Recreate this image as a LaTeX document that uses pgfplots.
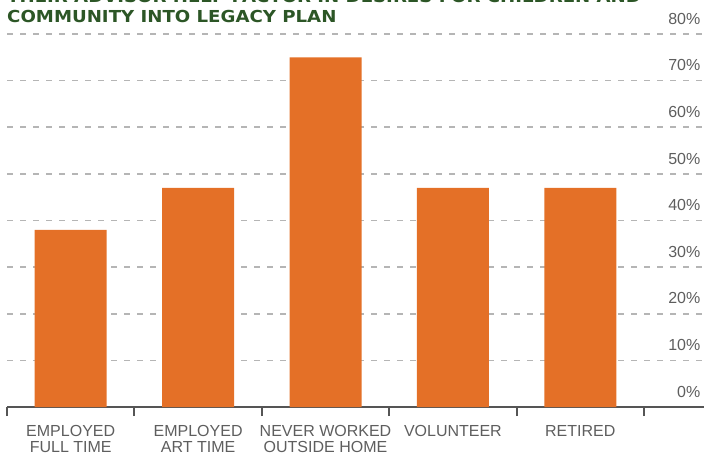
\documentclass[border=0pt]{standalone}
\usepackage{fontspec}
\setmainfont{Liberation Sans}
\newfontfamily\titlefont[FakeStretch=1.1]{DejaVu Sans}
\usepackage{pgfplots}
\pgfplotsset{compat=1.18}
\definecolor{barorange}{HTML}{E47027}
\definecolor{titlegreen}{HTML}{2C5626}
\definecolor{gridgray}{HTML}{B5B5B5}
\definecolor{axisgray}{HTML}{555555}
\definecolor{labelgray}{HTML}{5E5E5E}
\begin{document}
\begin{tikzpicture}[x=1pt,y=1pt]
\useasboundingbox (0,0) rectangle (704,455);
\begin{axis}[
  at={(7pt,48pt)}, anchor=south west,
  scale only axis,
  width=697pt, height=373pt,
  xmin=-0.5, xmax=4.971,
  ymin=0, ymax=80,
  axis x line=bottom,
  axis y line=right,
  x axis line style={-, draw=axisgray, line width=2.2pt},
  y axis line style={draw=none},
  ytick={0,10,...,80},
  yticklabel={\pgfmathprintnumber{\tick}\%},
  yticklabel style={anchor=south east, inner sep=0pt, xshift=-3.5pt, yshift=9.5pt,
     font=\fontsize{16}{16}\selectfont, text=labelgray},
  /pgf/number format/assume math mode=true,
  ytick style={draw=none},
  ymajorgrids,
  grid style={gridgray, line width=1.6pt, dash pattern=on 6pt off 7pt},
  xtick={0,1,2,3,4},
  xticklabels={{EMPLOYED\\FULL TIME},{EMPLOYED\\ART TIME},{NEVER WORKED\\OUTSIDE HOME},{VOLUNTEER},{RETIRED}},
  xticklabel style={align=center, anchor=north, inner sep=0pt, yshift=-14pt,
     font=\fontsize{16}{15.5}\selectfont, text=labelgray},
  major x tick style={draw=none},
  minor xtick={-0.5,0.5,1.5,2.5,3.5,4.5},
  minor x tick style={draw=axisgray, line width=2pt},
  tick align=inside,
  minor tick length=9pt,
  ybar, bar width=72pt,
]
\addplot[fill=barorange, draw=none] coordinates {(0,38) (1,47) (2,75) (3,47) (4,47)};
\end{axis}
\node[anchor=base west, inner sep=0pt, text=titlegreen, font=\titlefont\bfseries\fontsize{16.5}{16.5}\selectfont] at (7,452) {THEIR ADVISOR HELP FACTOR IN DESIRES FOR CHILDREN AND};
\node[anchor=base west, inner sep=0pt, text=titlegreen, font=\titlefont\bfseries\fontsize{16.5}{16.5}\selectfont] at (7,432) {COMMUNITY INTO LEGACY PLAN};
\end{tikzpicture}
\end{document}
